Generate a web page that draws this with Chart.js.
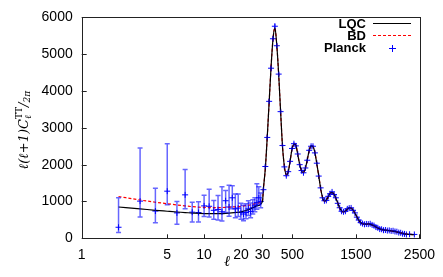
<!DOCTYPE html>
<html>
<head>
<meta charset="utf-8">
<script src="https://cdn.jsdelivr.net/npm/chart.js@4"></script>
<style>
  html, body { margin: 0; padding: 0; background: #fff; }
  #wrap { width: 443px; height: 277px; }
</style>
</head>
<body>
<div id="wrap"><canvas id="chart"></canvas></div>
<script>
// x axis: log from 1 to 30, linear from 30 to 2500
const xTicks = [1, 5, 10, 20, 30, 500, 1500, 2500];
const yTicks = [0, 1000, 2000, 3000, 4000, 5000, 6000];

// Planck low-l points (asymmetric errors)
const lowL  = [2, 3, 4, 5, 6, 7, 8, 9, 10, 11, 12, 13, 14, 15, 16, 17, 18, 19, 20, 21, 22, 23, 24, 25, 26, 27, 28, 29];
const lowD  = [300, 1010, 740, 1280, 690, 1180, 710, 700, 880, 870, 760, 780, 720, 1020, 850, 1100, 800, 820, 700, 660, 700, 800, 730, 830, 900, 970, 1100, 1000];
const lowLo = [160, 580, 420, 910, 385, 800, 445, 445, 590, 580, 520, 500, 470, 700, 600, 800, 560, 590, 520, 480, 530, 620, 560, 660, 720, 790, 920, 830];
const lowHi = [1100, 2450, 1360, 2570, 1000, 1870, 980, 990, 1170, 1330, 1030, 1160, 1400, 1300, 1440, 1430, 1200, 1200, 950, 900, 940, 1020, 960, 1050, 1100, 1480, 1400, 1230];

// Planck binned high-l points
const highL = [45, 75, 105, 135, 165, 195, 225, 255, 285, 315, 345, 375, 405, 435, 465, 495, 525, 555, 585, 615,
  645, 675, 705, 735, 765, 795, 825, 855, 885, 915, 945, 975, 1005, 1035, 1065, 1095, 1125, 1155, 1185, 1215,
  1245, 1275, 1305, 1335, 1365, 1395, 1425, 1455, 1485, 1515, 1545, 1575, 1605, 1635, 1665, 1695, 1725, 1755, 1785, 1815,
  1845, 1875, 1905, 1935, 1965, 1995, 2025, 2055, 2085, 2115, 2145, 2175, 2205, 2235, 2265, 2295, 2345, 2420];
const highD = [1320, 1950, 2740, 3720, 4620, 5420, 5760, 5230, 4460, 3440, 2520, 1940, 1700, 1810, 2090, 2440, 2570, 2510, 2290, 2000,
  1840, 1780, 1910, 2120, 2390, 2500, 2500, 2320, 2040, 1690, 1370, 1100, 1020, 1030, 1140, 1210, 1260, 1190, 1100, 950,
  830, 735, 720, 735, 800, 820, 825, 760, 690, 575, 495, 425, 400, 380, 390, 385, 395, 365, 345, 305,
  285, 250, 245, 220, 225, 210, 215, 200, 205, 185, 180, 155, 150, 125, 120, 105, 110, 105];
const highErr = [60, 60, 60, 65, 70, 70, 70, 65, 60, 55, 50, 45, 40, 40, 40, 40, 40, 40, 38, 35,
  35, 35, 35, 35, 35, 35, 35, 35, 32, 30, 30, 28, 26, 26, 26, 26, 26, 26, 25, 24,
  22, 22, 22, 22, 22, 22, 22, 22, 20, 20, 20, 20, 20, 20, 20, 20, 20, 20, 20, 20,
  20, 20, 20, 20, 20, 20, 20, 20, 20, 20, 20, 20, 20, 20, 20, 20, 20, 20];

// theory curves
const theoryLowL = [2, 3, 4, 5, 6, 7, 8, 10, 13, 16, 20, 24, 27, 30];
const lqcLowD = [850, 800, 760, 735, 715, 700, 685, 670, 670, 685, 720, 800, 880, 1000];
const bdLowD  = [1135, 1040, 980, 940, 905, 880, 860, 840, 835, 845, 870, 910, 950, 1030];
const theoryHighD = [1350, 1900, 2750, 3700, 4650, 5400, 5720, 5250, 4450, 3450, 2500, 1950, 1720, 1800, 2100, 2420, 2560, 2530, 2280, 2010,
  1830, 1790, 1900, 2130, 2380, 2510, 2490, 2330, 2030, 1700, 1360, 1110, 1010, 1040, 1130, 1220, 1250, 1200, 1090, 960,
  820, 740, 715, 740, 790, 825, 820, 770, 680, 585, 490, 430, 395, 385, 385, 390, 385, 365, 340, 310,
  280, 255, 240, 228, 220, 214, 208, 203, 196, 186, 174, 160, 146, 133, 122, 114, 106, 100];

const LOG_END = 30, X_MAX = 2500, LIN_SPAN = 1.2824;
function warp(l) {
  if (l <= LOG_END) return Math.log10(l);
  return Math.log10(LOG_END) + (l - LOG_END) / (X_MAX - LOG_END) * LIN_SPAN;
}
function unwarp(u) {
  const c = Math.log10(LOG_END);
  if (u <= c) return Math.pow(10, u);
  return LOG_END + (u - c) / LIN_SPAN * (X_MAX - LOG_END);
}

class HybridScale extends Chart.LinearScale {
  determineDataLimits() { this.min = 0; this.max = warp(X_MAX); }
  buildTicks() { return xTicks.map(v => ({ value: v })); }
  getPixelForValue(v) { return super.getPixelForValue(warp(v)); }
  getValueForPixel(p) { return unwarp(super.getValueForPixel(p)); }
}
HybridScale.id = 'hybrid';
HybridScale.defaults = Chart.LinearScale.defaults;
Chart.register(HybridScale);

const pts = (ls, ds) => ls.map((l, i) => ({ x: l, y: ds[i] }));
const planckL = lowL.concat(highL);
const planckD = lowD.concat(highD);
const planckLo = lowLo.concat(highD.map((d, i) => d - highErr[i]));
const planckHi = lowHi.concat(highD.map((d, i) => d + highErr[i]));

const frame = {
  id: 'frame',
  afterDatasetsDraw(chart) {
    const { ctx, scales: { x, y } } = chart;
    ctx.save();
    ctx.strokeStyle = 'rgba(0,0,255,0.6)';
    ctx.lineWidth = 1.5;
    planckL.forEach((l, i) => {
      const px = x.getPixelForValue(l);
      const y1 = y.getPixelForValue(planckLo[i]);
      const y2 = y.getPixelForValue(planckHi[i]);
      ctx.beginPath();
      ctx.moveTo(px, y1); ctx.lineTo(px, y2);
      if (l < 30) {
        ctx.moveTo(px - 2.5, y1); ctx.lineTo(px + 2.5, y1);
        ctx.moveTo(px - 2.5, y2); ctx.lineTo(px + 2.5, y2);
      }
      ctx.stroke();
    });
    ctx.restore();
  },
  afterDraw(chart) {
    const { ctx, chartArea: a, scales: { x, y } } = chart;
    ctx.save();
    ctx.strokeStyle = '#222';
    ctx.lineWidth = 1;
    ctx.strokeRect(Math.round(a.left) + 0.5, Math.round(a.top) + 0.5,
      Math.round(a.right - a.left), Math.round(a.bottom - a.top));
    ctx.beginPath();
    y.ticks.forEach(t => {
      const py = Math.round(y.getPixelForValue(t.value)) + 0.5;
      ctx.moveTo(a.left, py); ctx.lineTo(a.left + 5, py);
    });
    x.ticks.forEach(t => {
      const px = Math.round(x.getPixelForValue(t.value)) + 0.5;
      ctx.moveTo(px, a.bottom); ctx.lineTo(px, a.bottom - 4);
    });
    ctx.stroke();

    // legend
    ctx.font = 'bold 13px "Liberation Sans", Arial, sans-serif';
    ctx.fillStyle = '#000';
    ctx.textAlign = 'right';
    ctx.textBaseline = 'middle';
    const rows = [['LQC', 24], ['BD', 36], ['Planck', 48]];
    rows.forEach(([t, ry]) => ctx.fillText(t, 366, ry));
    ctx.beginPath();
    ctx.strokeStyle = '#000';
    ctx.moveTo(373, 23.5); ctx.lineTo(411, 23.5);
    ctx.stroke();
    ctx.beginPath();
    ctx.strokeStyle = '#ff0000';
    ctx.setLineDash([3, 2]);
    ctx.moveTo(373, 35.5); ctx.lineTo(411, 35.5);
    ctx.stroke();
    ctx.setLineDash([]);
    ctx.beginPath();
    ctx.strokeStyle = '#0000ff';
    ctx.moveTo(389, 48.5); ctx.lineTo(396, 48.5);
    ctx.moveTo(392.5, 45); ctx.lineTo(392.5, 52);
    ctx.stroke();

    // x title
    ctx.font = 'italic 15px "DejaVu Serif", serif';
    ctx.textAlign = 'center';
    ctx.fillText('\u2113', 227, 262);

    // y title, rotated
    ctx.translate(28, 130);
    ctx.rotate(-Math.PI / 2);
    ctx.textAlign = 'left';
    ctx.textBaseline = 'alphabetic';
    const big = 'italic 13px "DejaVu Serif", serif';
    const small = 'italic 9px "DejaVu Serif", serif';
    const smallUp = '9px "DejaVu Serif", serif';
    ctx.font = big;
    const w1 = ctx.measureText('\u2113(\u2113+1)C').width;
    const wSlash = ctx.measureText('/').width;
    ctx.font = small;
    const wSub = ctx.measureText('\u2113').width;
    ctx.font = smallUp;
    const wSup = ctx.measureText('TT').width;
    ctx.font = small;
    const w2pi = ctx.measureText('2\u03c0').width;
    const total = w1 + Math.max(wSub, wSup) + wSlash + w2pi;
    let cx = -total / 2;
    ctx.font = big;
    ctx.fillText('\u2113(\u2113+1)C', cx, 0);
    cx += w1;
    ctx.font = small;
    ctx.fillText('\u2113', cx, 3);
    ctx.font = smallUp;
    ctx.fillText('TT', cx, -6);
    cx += Math.max(wSub, wSup);
    ctx.font = big;
    ctx.fillText('/', cx, 0);
    cx += wSlash;
    ctx.font = small;
    ctx.fillText('2\u03c0', cx, 2);
    ctx.restore();
  }
};

new Chart(document.getElementById('chart'), {
  type: 'line',
  data: {
    datasets: [
      {
        label: 'LQC',
        data: pts(theoryLowL.concat(highL), lqcLowD.concat(theoryHighD)),
        borderColor: '#000',
        borderWidth: 1.2,
        pointRadius: 0,
        cubicInterpolationMode: 'monotone'
      },
      {
        label: 'BD',
        data: pts(theoryLowL.concat(highL), bdLowD.concat(theoryHighD)),
        borderColor: '#ff0000',
        borderWidth: 1.2,
        borderDash: [3, 2],
        pointRadius: 0,
        cubicInterpolationMode: 'monotone'
      },
      {
        label: 'Planck',
        data: pts(planckL, planckD),
        showLine: false,
        pointStyle: 'cross',
        pointRadius: 3,
        borderColor: '#0000ff',
        backgroundColor: '#0000ff',
        borderWidth: 1
      }
    ]
  },
  options: {
    responsive: true,
    maintainAspectRatio: false,
    animation: false,
    devicePixelRatio: 1,
    layout: { padding: { top: 14, right: 17, left: 0, bottom: 0 } },
    plugins: { legend: { display: false }, tooltip: { enabled: false } },
    scales: {
      x: {
        type: 'hybrid',
        grid: { display: false, drawTicks: false },
        border: { display: false },
        ticks: {
          padding: 8,
          color: '#000',
          maxRotation: 0,
          autoSkip: false,
          font: { family: '"Liberation Sans", Arial, sans-serif', size: 14 },
          callback: v => String(v)
        },
        afterFit: s => { s.height = 38.7; }
      },
      y: {
        min: 0,
        max: 6000,
        grid: { display: false, drawTicks: false },
        border: { display: false },
        afterBuildTicks: s => { s.ticks = yTicks.map(v => ({ value: v })); },
        ticks: {
          padding: 9,
          color: '#000',
          font: { family: '"Liberation Sans", Arial, sans-serif', size: 14 },
          callback: v => String(v)
        },
        afterFit: s => { s.width = 81.7; }
      }
    }
  },
  plugins: [frame]
});
</script>
</body>
</html>
